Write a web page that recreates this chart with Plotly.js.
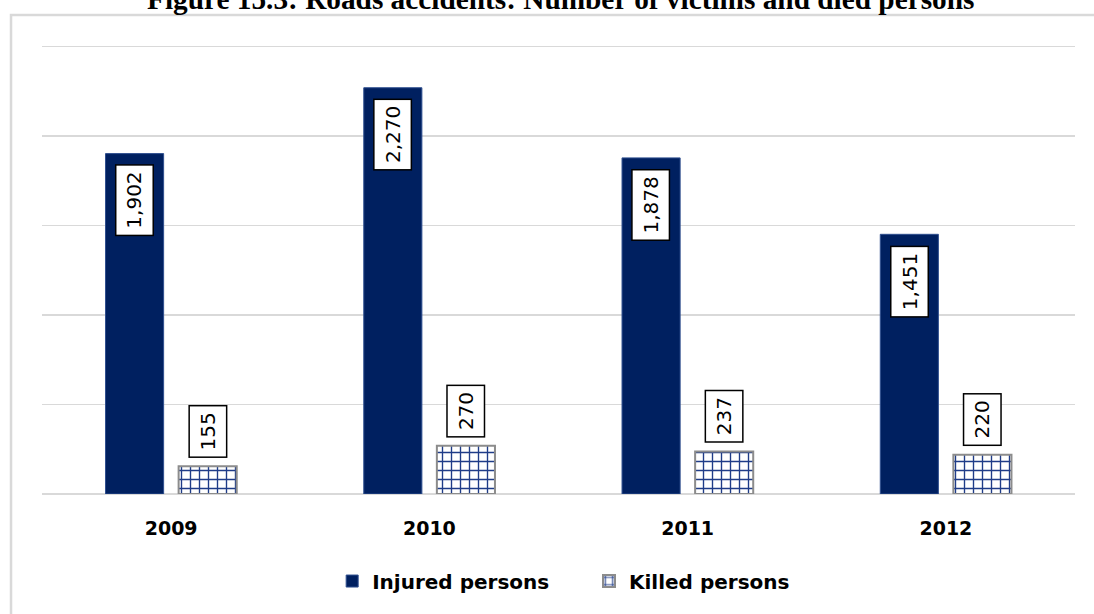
<!DOCTYPE html>
<html>
<head>
<meta charset="utf-8">
<script src="https://cdn.plot.ly/plotly-3.0.1.min.js"></script>
<style>html,body{margin:0;padding:0;background:#fff;}#chart{width:1094px;height:614px;}</style>
</head>
<body>
<div id="chart"></div>
<script>
const years = ['2009', '2010', '2011', '2012'];
const injured = [1902, 2270, 1878, 1451];
const killed = [155, 270, 237, 220];
const seriesNames = ['Injured persons', 'Killed persons'];
const titleText = 'Figure 15.3: Roads accidents: Number of victims and died persons';

const bargap = 0.434;
const slot = (1 - bargap) / 2; // fraction of a category per bar slot

const fmt = v => v.toLocaleString('en-US');
const pad = '\u00a0\u00a0\u00a0\u00a0\u00a0';

const traces = [
  {
    type: 'bar', name: seriesNames[0] + pad, x: years, y: injured,
    marker: {color: '#002060', line: {color: '#2f4f8f', width: 1}},
    hoverinfo: 'x+y'
  },
  {
    type: 'bar', name: seriesNames[1], x: years, y: killed,
    marker: {
      color: '#ffffff',
      line: {color: '#8c8c8c', width: 2},
      pattern: {shape: '+', fgcolor: '#1f3c88', bgcolor: '#ffffff', size: 9, solidity: 0.28}
    },
    hoverinfo: 'x+y'
  }
];

const labelFont = {family: 'DejaVu Sans', size: 20, color: '#000'};
const annotations = [];
years.forEach((yr, i) => {
  annotations.push({
    x: i - slot / 2, y: injured[i], xref: 'x', yref: 'y',
    text: fmt(injured[i]), showarrow: false, textangle: -90,
    xanchor: 'center', yanchor: 'middle', yshift: -47,
    font: labelFont,
    bgcolor: '#ffffff', bordercolor: '#000000', borderwidth: 1.5, borderpad: 6
  });
  annotations.push({
    x: i + slot / 2, y: killed[i], xref: 'x', yref: 'y',
    text: fmt(killed[i]), showarrow: false, textangle: -90,
    xanchor: 'center', yanchor: 'middle', yshift: 35,
    font: labelFont,
    bgcolor: '#ffffff', bordercolor: '#000000', borderwidth: 1.5, borderpad: 6
  });
});
annotations.push({
  text: '<b>' + titleText + '</b>', showarrow: false,
  xref: 'paper', yref: 'paper', x: 0.502, y: 1.098, xanchor: 'center', yanchor: 'middle',
  font: {family: 'Liberation Serif', size: 29.3, color: '#000'}
});

const layout = {
  width: 1094, height: 614,
  paper_bgcolor: '#ffffff', plot_bgcolor: '#ffffff',
  margin: {l: 42, r: 19, t: 43.4, b: 120},
  barmode: 'group', bargap: bargap, bargroupgap: 0.205,
  xaxis: {
    type: 'category', showgrid: false, zeroline: false, showline: false,
    ticks: '', ticklabelstandoff: 21,
    tickfont: {family: 'DejaVu Sans', size: 19, color: '#000', weight: 'bold'}
  },
  yaxis: {
    range: [0, 2520], dtick: 500, showgrid: true, gridcolor: '#d9d9d9', gridwidth: 1.5,
    showticklabels: false, zeroline: true, zerolinecolor: '#d9d9d9', zerolinewidth: 1.5,
    ticks: ''
  },
  legend: {
    orientation: 'h', x: 0.505, xanchor: 'center', y: -0.193, yanchor: 'middle',
    font: {family: 'DejaVu Sans', size: 20, color: '#000', weight: 'bold'},
    itemwidth: 30, traceorder: 'normal'
  },
  showlegend: true,
  annotations: annotations,
  shapes: [{
    type: 'rect', xref: 'paper', yref: 'paper', layer: 'below',
    x0: -0.030, x1: 1.1, y0: -0.4, y1: 1.0621,
    line: {color: '#d9d9d9', width: 2.5}, fillcolor: 'rgba(0,0,0,0)'
  }]
};

Plotly.newPlot('chart', traces, layout, {displayModeBar: false, staticPlot: true});
</script>
</body>
</html>
